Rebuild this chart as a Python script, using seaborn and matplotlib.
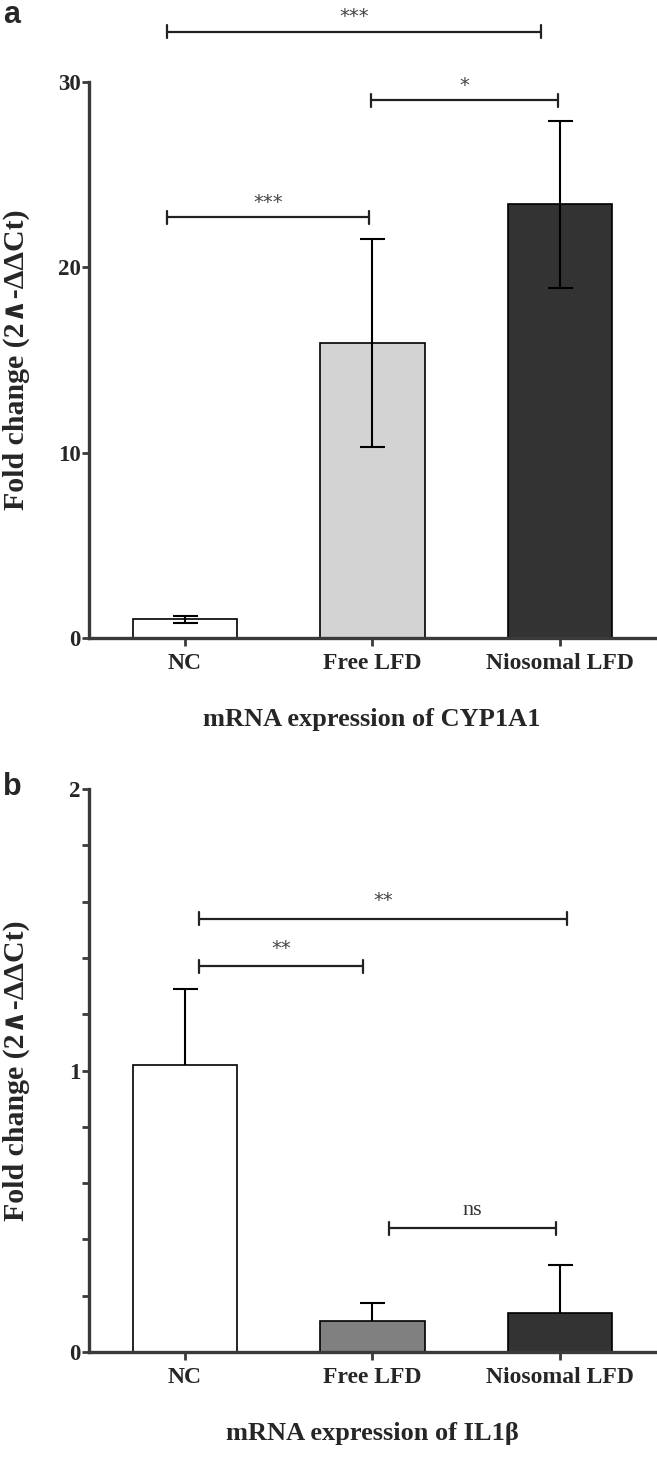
import numpy as np
import pandas as pd
import matplotlib
matplotlib.use("Agg")
import matplotlib.pyplot as plt
import seaborn as sns

# data
groups = ["NC", "Free LFD", "Niosomal LFD"]

cyp_mean = [1.0, 15.9, 23.4]
cyp_err = [0.18, 5.6, 4.5]
cyp_colors = ["#ffffff", "#d3d3d3", "#333333"]

il_mean = [1.02, 0.11, 0.14]
il_err = [0.27, 0.065, 0.17]
il_colors = ["#ffffff", "#808080", "#333333"]

# significance brackets: (x start, x end, height, label)
cyp_sig = [(-0.096, 1.898, 32.7, "***"), (0.99, 1.99, 29.0, "*"), (-0.096, 0.979, 22.7, "***")]
il_sig = [(0.075, 2.04, 1.54, "**"), (0.075, 0.947, 1.37, "**"), (1.086, 1.98, 0.44, "ns")]

sns.set_style("ticks")
plt.rcParams['font.family'] = ['Liberation Serif', 'DejaVu Serif']

AXC = "#3a3a3a"

fig = plt.figure(figsize=(6.57, 14.58), dpi=100)
ax1 = fig.add_axes([0.1355, 0.5624, 0.8615, 0.3814])
ax2 = fig.add_axes([0.1355, 0.0727, 0.8615, 0.3861])


def draw_panel(ax, means, errs, colors, both_sides):
    df = pd.DataFrame({"group": groups, "fold": means})
    sns.barplot(data=df, x="group", y="fold", hue="group", palette=colors,
                edgecolor="black", linewidth=1.2, width=0.555, legend=False,
                errorbar=None, ax=ax, zorder=2)
    low = errs if both_sides else [0] * len(errs)
    _, caps, _ = ax.errorbar(range(len(groups)), means, yerr=[low, errs], fmt="none",
                             ecolor="black", elinewidth=1.5, capsize=9, capthick=1.5, zorder=3)
    if not both_sides:
        caps[0].set_visible(False)
    ax.set_xlim(-0.512, 2.507)
    for s in ["top", "right"]:
        ax.spines[s].set_visible(False)
    for s in ["left", "bottom"]:
        ax.spines[s].set_linewidth(2.4)
        ax.spines[s].set_color(AXC)
    ax.tick_params(axis="both", which="both", direction="out", color=AXC, width=2.0)
    ax.tick_params(axis="y", which="both", length=5, pad=1, labelsize=16.5)
    ax.tick_params(axis="x", length=6, pad=5, labelsize=17)
    for lab in ax.get_xticklabels() + ax.get_yticklabels():
        lab.set_fontweight("bold")
    ax.set_ylabel("Fold change (2∧-ΔΔCt)", fontsize=21.5, fontweight="bold")
    ax.yaxis.set_label_coords(-0.104, 0.5)


def bracket(ax, x0, x1, y, h, label, text_dy):
    ax.plot([x0, x1], [y, y], color="#222222", lw=1.6, clip_on=False, zorder=4)
    for xx in (x0, x1):
        ax.plot([xx, xx], [y - h, y + h], color="#222222", lw=1.6, clip_on=False, zorder=4)
    if label == "ns":
        ax.text((x0 + x1) / 2, y + text_dy, label, ha="center", va="bottom",
                fontsize=16, color="#333333", clip_on=False)
    else:
        ax.text((x0 + x1) / 2, y + text_dy, label, ha="center", va="bottom",
                fontsize=14, color="#444444", family="DejaVu Sans", clip_on=False)


draw_panel(ax1, cyp_mean, cyp_err, cyp_colors, True)
ax1.set_ylim(0, 30)
ax1.set_yticks([0, 10, 20, 30])
ax1.set_xlabel("mRNA expression of CYP1A1", fontsize=19, fontweight="bold", labelpad=24)
for x0, x1, y, lab in cyp_sig:
    bracket(ax1, x0, x1, y, 0.35, lab, 0.3)

draw_panel(ax2, il_mean, il_err, il_colors, False)
ax2.set_ylim(0, 2)
ax2.set_yticks([0, 1, 2])
ax2.set_yticks(np.arange(0, 2.01, 0.2), minor=True)
ax2.set_xlabel("mRNA expression of IL1β", fontsize=19, fontweight="bold", labelpad=24)
for x0, x1, y, lab in il_sig:
    bracket(ax2, x0, x1, y, 0.023, lab, 0.03)

fig.text(0.004, 0.9895, "a", fontsize=22, fontweight="bold", family="Liberation Sans", va="center")
fig.text(0.004, 0.4605, "b", fontsize=22, fontweight="bold", family="Liberation Sans", va="center")

fig.savefig("out.png", dpi=100)
